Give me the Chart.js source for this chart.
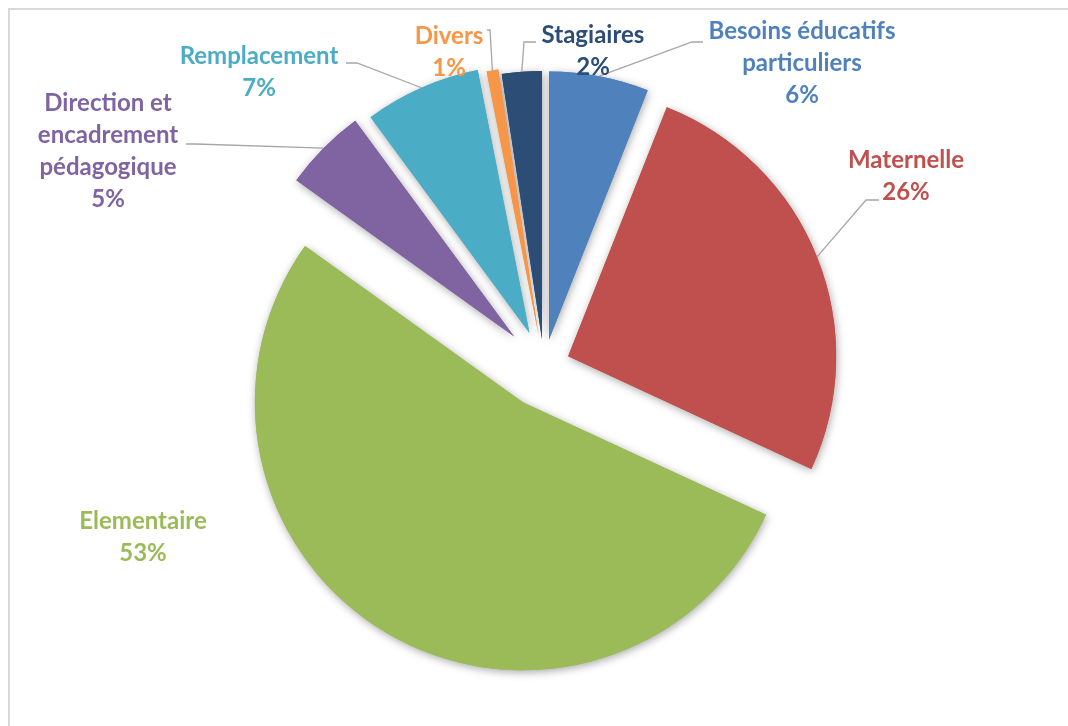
<!DOCTYPE html>
<html>
<head>
<meta charset="utf-8">
<script src="https://cdn.jsdelivr.net/npm/chart.js@4.4.1/dist/chart.umd.min.js"></script>
<style>
  html, body { margin: 0; padding: 0; background: #fff; overflow: hidden; }
  #wrap { position: relative; width: 1068px; height: 726px; overflow: hidden; }
  #frame { position: absolute; left: 8px; top: 8px; width: 1100px; height: 760px; border: 2px solid #d9d9d9; box-sizing: border-box; }
  canvas { position: absolute; left: 0; top: 0; }
</style>
</head>
<body>
<div id="wrap">
  <div id="frame"></div>
  <canvas id="pie" width="1068" height="726"></canvas>
</div>
<script>
// --- DATA (shares in %) ---
const categories = [
    ['Besoins éducatifs', 'particuliers'],
    ['Maternelle'],
    ['Elementaire'],
    ['Direction et', 'encadrement', 'pédagogique'],
    ['Remplacement'],
    ['Divers'],
    ['Stagiaires']
];
const shares = [6.0, 25.9, 53.0, 5.0, 7.0, 0.7, 2.4];
// --- END DATA ---

const sliceColors = ['#4F81BD', '#C0504D', '#9BBB59', '#8064A2', '#4BACC6', '#F79646', '#2C4D75'];
const explode = [27, 26, 42, 42, 36, 32, 27];

// text centre of first line, and leader points from the label towards the slice
const labelLayout = [
    { x: 802, y: 31, leader: [[703, 42], [692, 42]] },
    { x: 906, y: 160, leader: [[879, 200], [866, 200]] },
    { x: 143, y: 521, leader: null },
    { x: 108, y: 103, leader: [[186, 144], [196, 144]] },
    { x: 259, y: 56, leader: [[346, 63], [357, 63]] },
    { x: 449, y: 36, leader: [[487, 30], [490, 30]] },
    { x: 593, y: 35, leader: [[536, 42], [524, 42]] }
];
const lineHeight = 32;
const labelFont = 'bold 24px Lato';

const explodedPie = {
    id: 'explodedPie',
    beforeDatasetDraw(chart, args) {
        const ctx = chart.ctx;
        const arcs = args.meta.data;
        // shadows first, then the slices on top
        [true, false].forEach(withShadow => {
            arcs.forEach((arc, i) => {
                const mid = (arc.startAngle + arc.endAngle) / 2;
                ctx.save();
                ctx.translate(Math.cos(mid) * explode[i], Math.sin(mid) * explode[i]);
                if (withShadow) {
                    ctx.shadowColor = 'rgba(0, 0, 0, 0.35)';
                    ctx.shadowBlur = 9;
                    ctx.shadowOffsetX = 1;
                    ctx.shadowOffsetY = 2;
                }
                arc.draw(ctx);
                ctx.restore();
            });
        });
        return false;
    },
    afterDraw(chart) {
        const ctx = chart.ctx;
        const arcs = chart.getDatasetMeta(0).data;
        const total = shares.reduce((a, b) => a + b, 0);
        arcs.forEach((arc, i) => {
            const lay = labelLayout[i];
            const mid = (arc.startAngle + arc.endAngle) / 2;
            const r = arc.outerRadius + explode[i];
            const edge = [arc.x + Math.cos(mid) * r, arc.y + Math.sin(mid) * r];

            if (lay.leader) {
                const pts = lay.leader.concat([edge]);
                ctx.save();
                ctx.strokeStyle = '#A6A6A6';
                ctx.lineWidth = 1.3;
                ctx.beginPath();
                ctx.moveTo(pts[0][0], pts[0][1]);
                pts.slice(1).forEach(p => ctx.lineTo(p[0], p[1]));
                ctx.stroke();
                ctx.restore();
            }

            const lines = categories[i].concat([Math.round(shares[i] / total * 100) + '%']);
            ctx.save();
            ctx.font = labelFont;
            ctx.fillStyle = sliceColors[i];
            ctx.textAlign = 'center';
            ctx.textBaseline = 'middle';
            lines.forEach((t, k) => ctx.fillText(t, lay.x, lay.y + k * lineHeight));
            ctx.restore();
        });
    }
};

document.addEventListener('DOMContentLoaded', () => {
    const ctx = document.getElementById('pie').getContext('2d');
    new Chart(ctx, {
        type: 'pie',
        data: {
            labels: categories.map(c => c.join(' ')),
            datasets: [{
                data: shares,
                backgroundColor: sliceColors,
                borderWidth: 0,
                hoverOffset: 0,
                radius: 268
            }]
        },
        options: {
            responsive: false,
            animation: false,
            events: [],
            layout: { padding: { left: 20, right: 0, top: 6, bottom: 0 } },
            plugins: {
                legend: { display: false },
                tooltip: { enabled: false }
            }
        },
        plugins: [explodedPie]
    });
});
</script>
</body>
</html>
